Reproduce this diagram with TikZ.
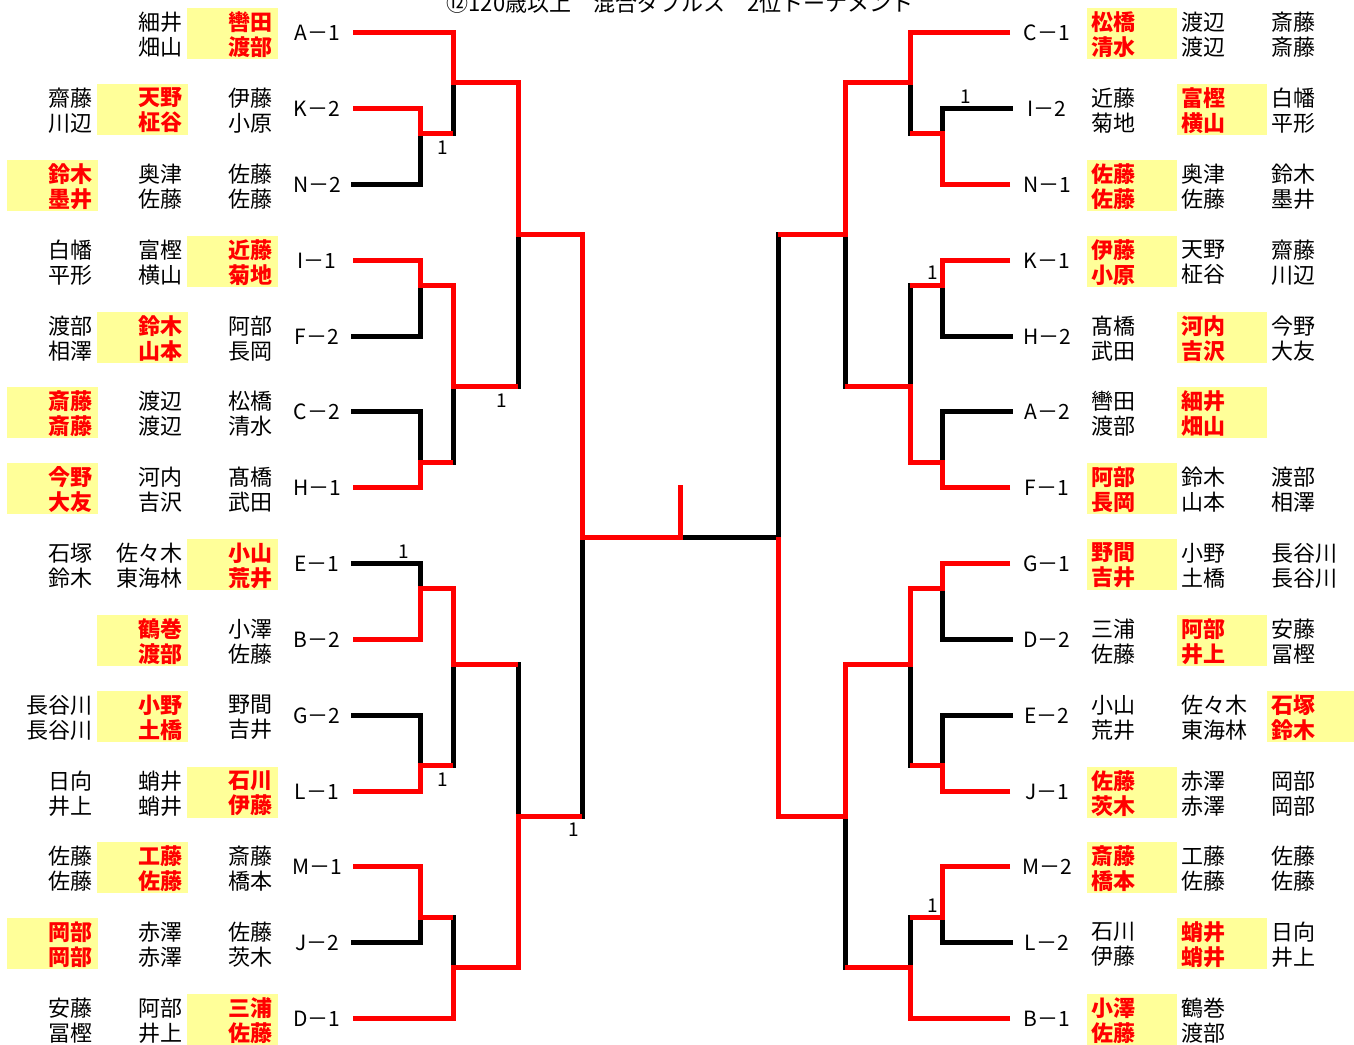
\documentclass[tikz,border=0pt]{standalone}
\usepackage{fontspec}
\setmainfont{Noto Sans CJK JP}
\definecolor{hly}{HTML}{FFFF99}
\definecolor{wred}{HTML}{FF0000}
\newcommand\nmfont{\fontsize{22}{25}\selectfont}
\tikzset{
  nm/.style={font=\nmfont, align=right, anchor=east, inner sep=0pt, text=black},
  nmr/.style={font=\nmfont, align=left, anchor=west, inner sep=0pt, text=black},
  win/.style={text=wred, font=\nmfont\bfseries},
  hl/.style={fill=hly},
  lbl/.style={font=\fontsize{21}{21}\selectfont, inner sep=0pt},
  sc/.style={font=\fontsize{19}{19}\selectfont, inner sep=0pt},
  rl/.style={draw=wred, line width=5pt, line join=miter},
  bl/.style={draw=black, line width=5pt, line cap=rect},
}
% left cells: name, right x, line y, text
\newcommand\LN[4]{\node[nm] (#1) at (#2,#3+2.5) {#4};}
\newcommand\LW[4]{\fill[hl] (#2-86,#3-24.5) rectangle (#2+5,#3+27);
  \node[nm,win] (#1) at (#2,#3+2.5) {#4};}
% right cells: name, left x, line y, text
\newcommand\RN[4]{\node[nmr] (#1) at (#2,#3+2.5) {#4};}
\newcommand\RW[4]{\fill[hl] (#2-4,#3-24.5) rectangle (#2+86,#3+27);
  \node[nmr,win] (#1) at (#2,#3+2.5) {#4};}
\begin{document}
\begin{tikzpicture}[x=1pt,y=-1pt]
\useasboundingbox (0,0) rectangle (1354,1044);
\clip (0,0) rectangle (1354,1044);

% title (cut at the top edge, as in the reference)
\node[font=\fontsize{22}{22}\selectfont, anchor=base, inner sep=0pt] (title) at (680,11) {⑫120歳以上　混合ダブルス　2位トーナメント};

% ---------------- entry points ----------------
\foreach \i/\yy in {0/32,1/108,2/184,3/260,4/336,5/411,6/487,7/563,8/639,9/715,10/791,11/866,12/942,13/1018}{
  \coordinate (eL\i) at (353,\yy);
  \coordinate (eR\i) at (1010,\yy);
}

% ---------------- black (losing) lines ----------------
\draw[bl] (eL2) -- (420,184) -- (420,133);
\draw[bl] (eL4) -- (420,336) -- (420,285);
\draw[bl] (eL5) -- (420,411) -- (420,462);
\draw[bl] (453,82) -- (453,133);
\draw[bl] (453,386) -- (453,462);
\draw[bl] (518,234) -- (518,386);
\draw[bl] (eL7) -- (420,563) -- (420,588);
\draw[bl] (eL9) -- (420,715) -- (420,765);
\draw[bl] (453,664) -- (453,765);
\draw[bl] (eL12) -- (420,942) -- (420,917);
\draw[bl] (453,917) -- (453,967);
\draw[bl] (518,664) -- (518,816);
\draw[bl] (582,537) -- (582,816);

\draw[bl] (910,82) -- (910,133);
\draw[bl] (eR1) -- (942,108) -- (942,133);
\draw[bl] (eR4) -- (942,336) -- (942,285);
\draw[bl] (eR5) -- (942,411) -- (942,462);
\draw[bl] (910,285) -- (910,386);
\draw[bl] (845,234) -- (845,386);
\draw[bl] (680,537) -- (778,537) -- (778,234);
\draw[bl] (eR8) -- (942,639) -- (942,588);
\draw[bl] (eR9) -- (942,715) -- (942,765);
\draw[bl] (910,664) -- (910,765);
\draw[bl] (eR12) -- (942,942) -- (942,917);
\draw[bl] (910,917) -- (910,967);
\draw[bl] (845,816) -- (845,967);

% ---------------- red (winning) lines ----------------
\draw[rl] (eL0) -- (453,32) -- (453,82) -- (518,82) -- (518,234) -- (582,234) -- (582,537) -- (680,537) -- (680,485);
\draw[rl] (eL1) -- (420,108) -- (420,133) -- (453,133);
\draw[rl] (eL3) -- (420,260) -- (420,285) -- (453,285) -- (453,386) -- (518,386);
\draw[rl] (eL6) -- (420,487) -- (420,462) -- (453,462);
\draw[rl] (eL8) -- (420,639) -- (420,588) -- (453,588) -- (453,664) -- (518,664);
\draw[rl] (eL10) -- (420,791) -- (420,765) -- (453,765);
\draw[rl] (eL11) -- (420,866) -- (420,917) -- (453,917);
\draw[rl] (eL13) -- (453,1018) -- (453,967) -- (518,967) -- (518,816) -- (582,816);

\draw[rl] (eR0) -- (910,32) -- (910,82) -- (845,82) -- (845,234) -- (778,234);
\draw[rl] (eR2) -- (942,184) -- (942,133) -- (910,133);
\draw[rl] (eR3) -- (942,260) -- (942,285) -- (910,285);
\draw[rl] (eR6) -- (942,487) -- (942,462) -- (910,462) -- (910,386) -- (845,386);
\draw[rl] (eR7) -- (942,563) -- (942,588) -- (910,588) -- (910,664) -- (845,664) -- (845,816) -- (778,816) -- (778,537);
\draw[rl] (eR10) -- (942,791) -- (942,765) -- (910,765);
\draw[rl] (eR11) -- (942,866) -- (942,917) -- (910,917);
\draw[rl] (eR13) -- (910,1018) -- (910,967) -- (845,967);

% ---------------- scores ----------------
\node[sc] (s1) at (443,148) {1};
\node[sc] (s2) at (502,401) {1};
\node[sc] (s3) at (404,552) {1};
\node[sc] (s4) at (443,780) {1};
\node[sc] (s5) at (574,830) {1};
\node[sc] (s6) at (966,97) {1};
\node[sc] (s7) at (933,273) {1};
\node[sc] (s8) at (933,906) {1};

% ---------------- left labels ----------------
\node[lbl] (lA1) at (317,33) {A－1};
\node[lbl] (lK2) at (317,109) {K－2};
\node[lbl] (lN2) at (317,185) {N－2};
\node[lbl] (lI1) at (317,261) {I－1};
\node[lbl] (lF2) at (317,337) {F－2};
\node[lbl] (lC2) at (317,412) {C－2};
\node[lbl] (lH1) at (317,488) {H－1};
\node[lbl] (lE1) at (317,564) {E－1};
\node[lbl] (lB2) at (317,640) {B－2};
\node[lbl] (lG2) at (317,716) {G－2};
\node[lbl] (lL1) at (317,792) {L－1};
\node[lbl] (lM1) at (317,867) {M－1};
\node[lbl] (lJ2) at (317,943) {J－2};
\node[lbl] (lD1) at (317,1019) {D－1};

% ---------------- right labels ----------------
\node[lbl] (rC1) at (1047,33) {C－1};
\node[lbl] (rI2) at (1047,109) {I－2};
\node[lbl] (rN1) at (1047,185) {N－1};
\node[lbl] (rK1) at (1047,261) {K－1};
\node[lbl] (rH2) at (1047,337) {H－2};
\node[lbl] (rA2) at (1047,412) {A－2};
\node[lbl] (rF1) at (1047,488) {F－1};
\node[lbl] (rG1) at (1047,564) {G－1};
\node[lbl] (rD2) at (1047,640) {D－2};
\node[lbl] (rE2) at (1047,716) {E－2};
\node[lbl] (rJ1) at (1047,792) {J－1};
\node[lbl] (rM2) at (1047,867) {M－2};
\node[lbl] (rL2) at (1047,943) {L－2};
\node[lbl] (rB1) at (1047,1019) {B－1};

% ---------------- left names (right edges 93 / 183 / 273) ----------------
\LN{L0b}{183}{32}{細井\\畑山}      \LW{L0c}{273}{32}{轡田\\渡部}
\LN{L1a}{93}{108}{齋藤\\川辺}      \LW{L1b}{183}{108}{天野\\柾谷}     \LN{L1c}{273}{108}{伊藤\\小原}
\LW{L2a}{93}{184}{鈴木\\墨井}      \LN{L2b}{183}{184}{奥津\\佐藤}     \LN{L2c}{273}{184}{佐藤\\佐藤}
\LN{L3a}{93}{260}{白幡\\平形}      \LN{L3b}{183}{260}{富樫\\横山}     \LW{L3c}{273}{260}{近藤\\菊地}
\LN{L4a}{93}{336}{渡部\\相澤}      \LW{L4b}{183}{336}{鈴木\\山本}     \LN{L4c}{273}{336}{阿部\\長岡}
\LW{L5a}{93}{411}{斎藤\\斎藤}      \LN{L5b}{183}{411}{渡辺\\渡辺}     \LN{L5c}{273}{411}{松橋\\清水}
\LW{L6a}{93}{487}{今野\\大友}      \LN{L6b}{183}{487}{河内\\吉沢}     \LN{L6c}{273}{487}{髙橋\\武田}
\LN{L7a}{93}{563}{石塚\\鈴木}      \LN{L7b}{183}{563}{佐々木\\東海林} \LW{L7c}{273}{563}{小山\\荒井}
                                  \LW{L8b}{183}{639}{鶴巻\\渡部}     \LN{L8c}{273}{639}{小澤\\佐藤}
\LN{L9a}{93}{715}{長谷川\\長谷川}  \LW{L9b}{183}{715}{小野\\土橋}     \LN{L9c}{273}{715}{野間\\吉井}
\LN{L10a}{93}{791}{日向\\井上}     \LN{L10b}{183}{791}{蛸井\\蛸井}    \LW{L10c}{273}{791}{石川\\伊藤}
\LN{L11a}{93}{866}{佐藤\\佐藤}     \LW{L11b}{183}{866}{工藤\\佐藤}    \LN{L11c}{273}{866}{斎藤\\橋本}
\LW{L12a}{93}{942}{岡部\\岡部}     \LN{L12b}{183}{942}{赤澤\\赤澤}    \LN{L12c}{273}{942}{佐藤\\茨木}
\LN{L13a}{93}{1018}{安藤\\冨樫}    \LN{L13b}{183}{1018}{阿部\\井上}   \LW{L13c}{273}{1018}{三浦\\佐藤}

% ---------------- right names (left edges 1091 / 1181 / 1271) ----------------
\RW{R0a}{1091}{32}{松橋\\清水}     \RN{R0b}{1181}{32}{渡辺\\渡辺}     \RN{R0c}{1271}{32}{斎藤\\斎藤}
\RN{R1a}{1091}{108}{近藤\\菊地}    \RW{R1b}{1181}{108}{富樫\\横山}    \RN{R1c}{1271}{108}{白幡\\平形}
\RW{R2a}{1091}{184}{佐藤\\佐藤}    \RN{R2b}{1181}{184}{奥津\\佐藤}    \RN{R2c}{1271}{184}{鈴木\\墨井}
\RW{R3a}{1091}{260}{伊藤\\小原}    \RN{R3b}{1181}{260}{天野\\柾谷}    \RN{R3c}{1271}{260}{齋藤\\川辺}
\RN{R4a}{1091}{336}{髙橋\\武田}    \RW{R4b}{1181}{336}{河内\\吉沢}    \RN{R4c}{1271}{336}{今野\\大友}
\RN{R5a}{1091}{411}{轡田\\渡部}    \RW{R5b}{1181}{411}{細井\\畑山}
\RW{R6a}{1091}{487}{阿部\\長岡}    \RN{R6b}{1181}{487}{鈴木\\山本}    \RN{R6c}{1271}{487}{渡部\\相澤}
\RW{R7a}{1091}{563}{野間\\吉井}    \RN{R7b}{1181}{563}{小野\\土橋}    \RN{R7c}{1271}{563}{長谷川\\長谷川}
\RN{R8a}{1091}{639}{三浦\\佐藤}    \RW{R8b}{1181}{639}{阿部\\井上}    \RN{R8c}{1271}{639}{安藤\\冨樫}
\RN{R9a}{1091}{715}{小山\\荒井}    \RN{R9b}{1181}{715}{佐々木\\東海林} \RW{R9c}{1271}{715}{石塚\\鈴木}
\RW{R10a}{1091}{791}{佐藤\\茨木}   \RN{R10b}{1181}{791}{赤澤\\赤澤}   \RN{R10c}{1271}{791}{岡部\\岡部}
\RW{R11a}{1091}{866}{斎藤\\橋本}   \RN{R11b}{1181}{866}{工藤\\佐藤}   \RN{R11c}{1271}{866}{佐藤\\佐藤}
\RN{R12a}{1091}{942}{石川\\伊藤}   \RW{R12b}{1181}{942}{蛸井\\蛸井}   \RN{R12c}{1271}{942}{日向\\井上}
\RW{R13a}{1091}{1018}{小澤\\佐藤}  \RN{R13b}{1181}{1018}{鶴巻\\渡部}
\end{tikzpicture}
\end{document}
